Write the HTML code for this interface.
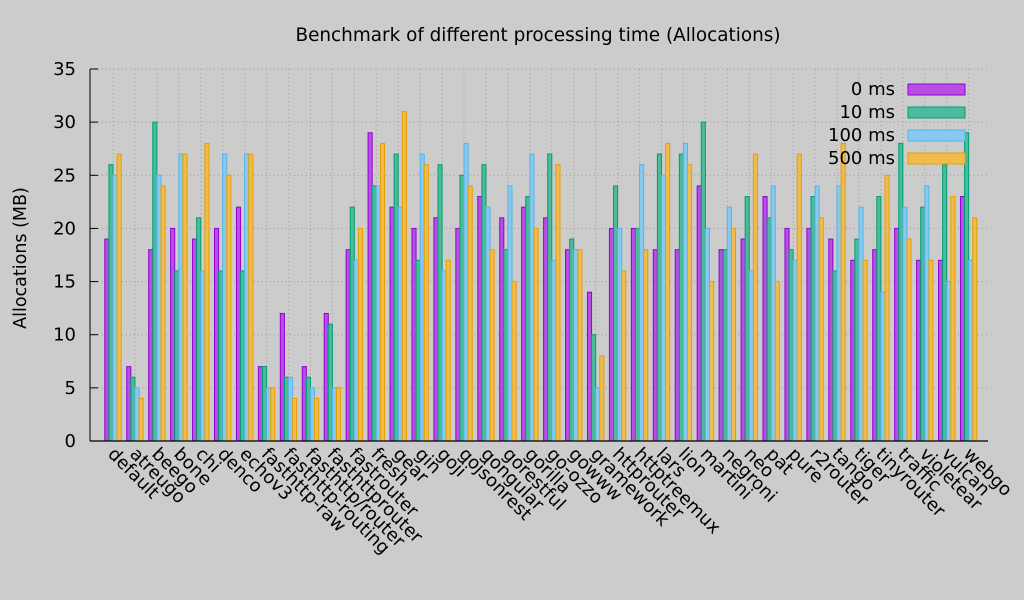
<!DOCTYPE html>
<html><head><meta charset="utf-8"><style>
body{margin:0;background:#cccccc;}
svg{display:block;font-family:"DejaVu Sans","Liberation Sans",sans-serif;}
</style></head><body>
<svg id="chart" width="1024" height="600" xmlns="http://www.w3.org/2000/svg">
<rect width="1024" height="600" fill="#cccccc"/>
<text x="538" y="41" text-anchor="middle" font-size="18.4" fill="#000">Benchmark of different processing time (Allocations)</text>
<text transform="translate(26,258) rotate(-90)" text-anchor="middle" font-size="17.5" fill="#000">Allocations (MB)</text>
<g id="grid"></g><g id="bars"></g><g id="axes"></g><g id="legend"></g>
</svg>
<script>
const categories = ["default","atreugo","beego","bone","chi","denco","echov3","fasthttp-raw","fasthttp-routing","fasthttp/router","fasthttprouter","fastrouter","fresh","gear","gin","goji","gojsonrest","gongular","gorestful","gorilla","go-ozzo","gowww","gramework","httprouter","httptreemux","lars","lion","martini","negroni","neo","pat","pure","r2router","tango","tiger","tinyrouter","traffic","violetear","vulcan","webgo"];
const s0ms   = [19,7,18,20,19,20,22,7,12,7,12,18,29,22,20,21,20,23,21,22,21,18,14,20,20,18,18,24,18,19,23,20,20,19,17,18,20,17,17,23];
const s10ms  = [26,6,30,16,21,16,16,7,6,6,11,22,24,27,17,26,25,26,18,23,27,19,10,24,20,27,27,30,18,23,21,18,23,16,19,23,28,22,26,29];
const s100ms = [25,5,25,27,16,27,27,5,6,5,5,17,24,22,27,16,28,22,24,27,17,18,5,20,26,25,28,20,22,16,24,17,24,24,22,14,22,24,15,17];
const s500ms = [27,4,24,27,28,25,27,5,4,4,5,20,28,31,26,17,24,18,15,20,26,18,8,16,18,28,26,15,20,27,15,27,21,28,17,25,19,17,23,21];
const seriesNames = ["0 ms","10 ms","100 ms","500 ms"];
const yTicks = [0,5,10,15,20,25,30,35];

const NS="http://www.w3.org/2000/svg";
const X0=90,X1=988,Y0=441,Y1=69,YMAX=35;
const yS=v=>Y0-(Y0-Y1)*v/YMAX;
const xC=i=>113+21.94*i;
const BW=4.1;
const fills=["#b650e4","#4dba9b","#88c9f0","#f0bc4f"];
const strokes=["#9400d3","#009e73","#56b4e9","#e69f00"];
const series=[s0ms,s10ms,s100ms,s500ms];
function mk(tag,attrs,parent){const e=document.createElementNS(NS,tag);for(const k in attrs)e.setAttribute(k,attrs[k]);parent.appendChild(e);return e;}
const grid=document.getElementById('grid'),bars=document.getElementById('bars'),axes=document.getElementById('axes'),legend=document.getElementById('legend');
yTicks.forEach(t=>{
  const y=yS(t);
  if(t>0){const g=mk('line',{x1:X0,x2:X1,y1:y,y2:y,stroke:'#999',"stroke-dasharray":'1,3'},grid);
  
  }
  const tk=mk('line',{x1:X0,x2:X0+8,y1:y,y2:y,stroke:'#000'},axes);
  
  
  const tl=mk('text',{x:76,y:y+6,"text-anchor":'end',"font-size":18},axes);
  tl.textContent=t;
  
  
});
categories.forEach((c,i)=>{
  const x=xC(i);
  const g=mk('line',{x1:x,x2:x,y1:Y1,y2:Y0,stroke:'#999',"stroke-dasharray":'1,3'},grid);
  
  
  series.forEach((s,k)=>{
    const v=s[i];
    const r=mk('rect',{x:x-2*BW+k*BW,y:yS(v),width:BW,height:Y0-yS(v),fill:fills[k],stroke:strokes[k],"stroke-width":1},bars);
    
    
  });
  const t=mk('text',{x:0,y:0,"font-size":18,transform:`translate(${x-6},455) rotate(45)`},axes);
  t.textContent=c;
  
  
});
const ax=mk('line',{x1:X0,x2:X1,y1:Y0,y2:Y0,stroke:'#000',"stroke-width":1.2},axes);


const ay=mk('line',{x1:X0,x2:X0,y1:Y1,y2:Y0,stroke:'#000',"stroke-width":1},axes);


seriesNames.forEach((n,k)=>{
  const y=89+23*k;
  const t=mk('text',{x:895,y:y+6,"text-anchor":'end',"font-size":18},legend);
  t.textContent=n;
  
  
  const r=mk('rect',{x:908,y:y-5,width:57,height:11,fill:fills[k],stroke:strokes[k]},legend);
  
  
});
</script>
</body></html>
